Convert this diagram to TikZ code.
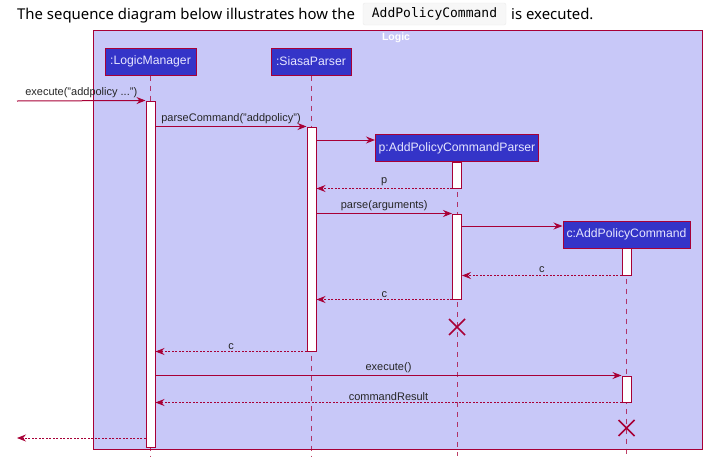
\documentclass[tikz,border=0pt]{standalone}
\usepackage{fontspec}
\setmainfont{Liberation Sans}
\newfontfamily\headfont{Noto Sans}
\newfontfamily\codefont{DejaVu Sans Mono}
\usetikzlibrary{arrows.meta}
\definecolor{crim}{HTML}{A80036}
\definecolor{framefill}{HTML}{C8C8F8}
\definecolor{boxfill}{HTML}{3434C8}
\definecolor{boxtext}{HTML}{E6E6FF}
\tikzset{
  participant/.style={draw=crim, line width=1pt, fill=boxfill, text=boxtext,
    font=\fontsize{12.2}{14}\selectfont, minimum height=27pt, inner sep=0pt},
  act/.style={draw=crim, line width=1pt, fill=white, minimum width=9pt, inner sep=0pt},
  lifeline/.style={draw=crim, line width=0.9pt, dash pattern=on 5pt off 5pt, opacity=0.75},
  msg/.style={draw=crim, line width=1pt, -{Stealth[length=9pt,width=7pt,inset=3pt]}},
  ret/.style={draw=crim, line width=0.8pt, dash pattern=on 2pt off 1.5pt, -{Stealth[length=9pt,width=7pt,inset=3pt]}},
  lbl/.style={above, inner sep=2pt, text=black!85, font=\fontsize{11}{13}\selectfont},
  killmark/.style={draw=crim, line width=1.5pt},
  headtext/.style={anchor=base west, inner sep=0pt, font=\headfont\fontsize{14.9}{18}\selectfont},
}
\begin{document}
\begin{tikzpicture}[x=1pt,y=-1pt]
\useasboundingbox (0,0) rectangle (719,461);
% header
\node[headtext] (t1) at (17,19) {The sequence diagram below illustrates how the};
\node[draw=black!8, fill=black!3, rounded corners=2pt, minimum width=143pt, minimum height=22pt, inner sep=0pt, font=\codefont\fontsize{13}{15}\selectfont] (code) at (434.5,14) {AddPolicyCommand};
\node[headtext] (t2) at (511,19) {is executed.};
% frame
\node[draw=crim, line width=1pt, fill=framefill, minimum width=609pt, minimum height=419pt, inner sep=0pt] (frame) at (398,239.5) {};
\node[text=white, font=\bfseries\fontsize{10.5}{12}\selectfont, inner sep=0pt] (ftitle) at (396,38) {Logic};
% participants
\node[participant, minimum width=91pt] (LM) at (150.5,61.5) {:LogicManager};
\node[participant, minimum width=80pt] (SP) at (311,61.5) {:SiasaParser};
\node[participant, minimum width=163pt] (P) at (457,148) {p:AddPolicyCommandParser};
\node[participant, minimum width=127pt] (C) at (626.5,234.5) {c:AddPolicyCommand};
% lifeline ends
\coordinate (LMend) at (150.5,456);
\coordinate (SPend) at (311,456);
\coordinate (Pend) at (457,456);
\coordinate (Cend) at (626.5,456);
\draw[lifeline] (LM.south) -- (LMend);
\draw[lifeline] (SP.south) -- (SPend);
\draw[lifeline] (P.south) -- (Pend);
\draw[lifeline] (C.south) -- (Cend);
% activations
\node[act, minimum height=346pt] (aLM) at (150.5,274) {};
\node[act, minimum height=224pt] (aSP) at (311.5,239) {};
\node[act, minimum height=26pt] (aP1) at (457,175) {};
\node[act, minimum height=85pt] (aP2) at (457,256.5) {};
\node[act, minimum height=27pt] (aC1) at (626.5,261.5) {};
\node[act, minimum height=26pt] (aC2) at (626.5,389) {};
% external ends
\coordinate (src) at (17,101);
\coordinate (sink) at (17,438);
% messages
\draw[msg] (src) -- node[lbl] {execute("addpolicy ...")} (aLM.north west);
\draw[msg] (aLM.east |- aSP.north) -- node[lbl] {parseCommand("addpolicy")} (aSP.north west);
\draw[msg] (aSP.east |- 0,140) -- (P.west |- 0,140);
\draw[ret] (aP1.south west) -- node[lbl] {p} (aSP.east |- aP1.south);
\draw[msg] (aSP.east |- aP2.north) -- node[lbl] {parse(arguments)} (aP2.north west);
\draw[msg] (aP2.east |- 0,226) -- (C.west |- 0,226);
\draw[ret] (aC1.south west) -- node[lbl] {c} (aP2.east |- aC1.south);
\draw[ret] (aP2.south west) -- node[lbl] {c} (aSP.east |- aP2.south);
\draw[ret] (aSP.south west) -- node[lbl] {c} (aLM.east |- aSP.south);
\draw[msg] (aLM.east |- aC2.north) -- node[lbl] {execute()} (aC2.north west);
\draw[ret] (aC2.south west) -- node[lbl] {commandResult} (aLM.east |- aC2.south);
\draw[ret] (aLM.west |- sink) -- (sink);
% destruction marks
\coordinate (xP) at (457,327);
\coordinate (xC) at (626.5,428);
\draw[killmark] ([shift={(-8,-8)}]xP) -- ([shift={(8,8)}]xP) ([shift={(-8,8)}]xP) -- ([shift={(8,-8)}]xP);
\draw[killmark] ([shift={(-8,-8)}]xC) -- ([shift={(8,8)}]xC) ([shift={(-8,8)}]xC) -- ([shift={(8,-8)}]xC);
\end{tikzpicture}
\end{document}
